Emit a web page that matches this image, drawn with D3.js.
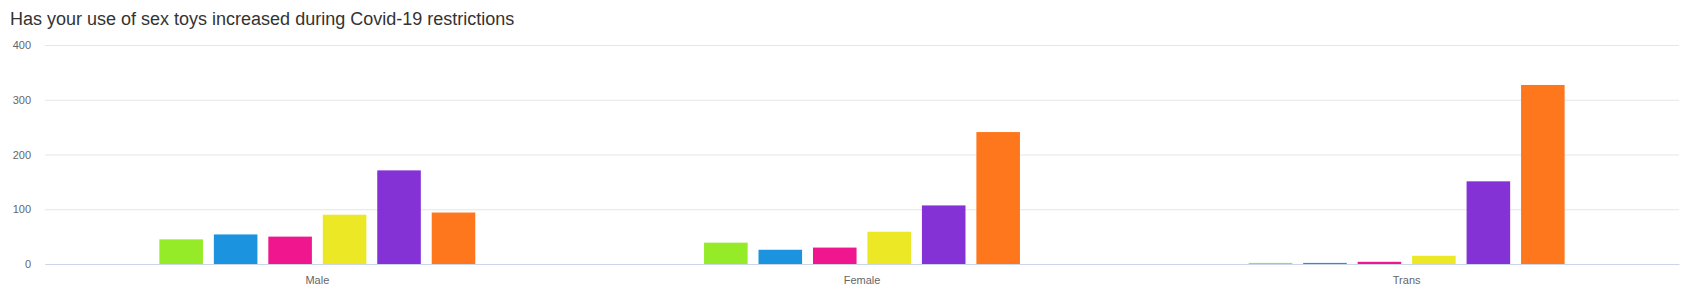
<!DOCTYPE html>
<html>
<head>
<meta charset="utf-8">
<script src="https://cdn.jsdelivr.net/npm/d3@7"></script>
<style>
  body { margin: 0; background: #fff; }
  svg { font-family: "Liberation Sans", Arial, sans-serif; display: block; }
  .title { font-size: 18px; fill: #333; }
  .tick text { font-size: 11px; fill: #666; }
</style>
</head>
<body>
<svg width="1689" height="300"></svg>
<script>
// data
const groups = ['Male', 'Female', 'Trans'];
const series = ['s1', 's2', 's3', 's4', 's5', 's6'];
const colors = ['#96eb28', '#1b93df', '#f0168e', '#ece826', '#8431d6', '#ff771c'];
const male = [45, 54, 50, 90, 171, 94];
const female = [39, 26, 30, 59, 107, 241];
const trans = [2, 2, 4, 15, 151, 327];
const yTicks = [0, 100, 200, 300, 400];

const values = [male, female, trans];

let svg = d3.select('svg'),
  width = +svg.attr('width'),
  height = +svg.attr('height');

const margin = { top: 45, right: 10, bottom: 36, left: 45 };

let x0 = d3.scaleBand()
  .domain(groups)
  .range([margin.left, width - margin.right])
  .paddingInner(0.42)
  .paddingOuter(0.21);

let x1 = d3.scaleBand()
  .domain(series)
  .range([0, x0.bandwidth()])
  .paddingInner(0.2);

let y = d3.scaleLinear()
  .domain([0, 400])
  .range([height - margin.bottom, margin.top]);

let color = d3.scaleOrdinal(series, colors);

// grid + y labels
let yAxis = svg.append('g')
  .attr('transform', 'translate(' + margin.left + ',0)')
  .call(d3.axisLeft(y).tickValues(yTicks).tickSize(-(width - margin.left - margin.right)).tickPadding(14));
yAxis.select('.domain').remove();
yAxis.selectAll('.tick line').attr('stroke', '#e6e6e6');
yAxis.selectAll('.tick text').attr('dy', '0.32em');

// bars
let grp = svg.append('g').selectAll('g')
  .data(groups)
  .enter().append('g')
  .attr('transform', function(d) { return 'translate(' + x0(d) + ',0)'; });

grp.selectAll('rect')
  .data(function(d, i) { return series.map(function(s, j) { return { key: s, value: values[i][j] }; }); })
  .enter().append('rect')
  .attr('x', function(d) { return x1(d.key); })
  .attr('y', function(d) { return y(d.value); })
  .attr('width', x1.bandwidth())
  .attr('height', function(d) { return y(0) - y(d.value); })
  .attr('fill', function(d) { return color(d.key); });

// x axis
let xAxis = svg.append('g')
  .attr('transform', 'translate(0,' + y(0) + ')')
  .call(d3.axisBottom(x0).tickSize(0).tickPadding(12));
xAxis.select('.domain').attr('stroke', '#ccd6eb');

svg.append('text')
  .attr('class', 'title')
  .attr('x', 10)
  .attr('y', 25)
  .text('Has your use of sex toys increased during Covid-19 restrictions');
</script>
</body>
</html>
